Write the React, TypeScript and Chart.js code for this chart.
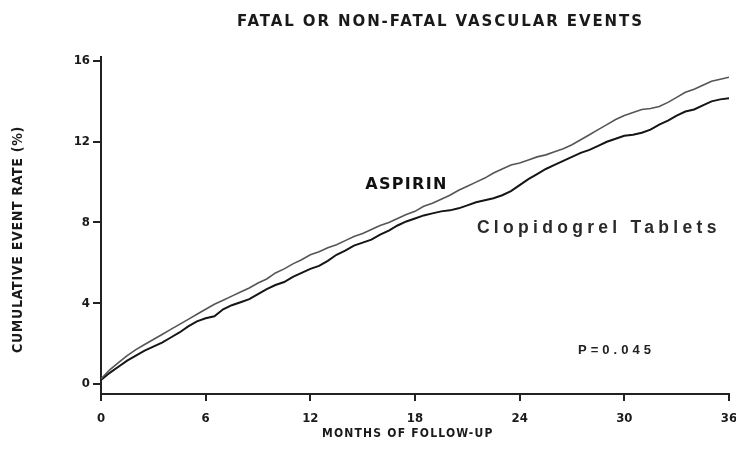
import React, { useEffect, useRef } from "react";
import { Chart, registerables } from "chart.js";

Chart.register(...registerables);

const months = [
  0, 0.5, 1, 1.5, 2, 2.5, 3, 3.5, 4, 4.5, 5, 5.5, 6, 6.5, 7, 7.5, 8, 8.5, 9, 9.5,
  10, 10.5, 11, 11.5, 12, 12.5, 13, 13.5, 14, 14.5, 15, 15.5, 16, 16.5, 17, 17.5,
  18, 18.5, 19, 19.5, 20, 20.5, 21, 21.5, 22, 22.5, 23, 23.5, 24, 24.5, 25, 25.5,
  26, 26.5, 27, 27.5, 28, 28.5, 29, 29.5, 30, 30.5, 31, 31.5, 32, 32.5, 33, 33.5,
  34, 34.5, 35, 35.5, 36,
];

const aspirin = [
  0.25, 0.7, 1.05, 1.4, 1.7, 1.95, 2.2, 2.45, 2.7, 2.95, 3.2, 3.45, 3.7, 3.95, 4.15, 4.35,
  4.55, 4.75, 5.0, 5.2, 5.5, 5.7, 5.95, 6.15, 6.4, 6.55, 6.75, 6.9, 7.1, 7.3, 7.45, 7.65,
  7.85, 8.0, 8.2, 8.4, 8.55, 8.8, 8.95, 9.15, 9.35, 9.6, 9.8, 10.0, 10.2, 10.45, 10.65,
  10.85, 10.95, 11.1, 11.25, 11.35, 11.5, 11.65, 11.85, 12.1, 12.35, 12.6, 12.85, 13.1,
  13.3, 13.45, 13.6, 13.65, 13.75, 13.95, 14.2, 14.45, 14.6, 14.8, 15.0, 15.1, 15.2,
];

const clopidogrel = [
  0.2, 0.55, 0.85, 1.15, 1.4, 1.65, 1.85, 2.05, 2.3, 2.55, 2.85, 3.1, 3.25, 3.35, 3.7, 3.9,
  4.05, 4.2, 4.45, 4.7, 4.9, 5.05, 5.3, 5.5, 5.7, 5.85, 6.1, 6.4, 6.6, 6.85, 7.0, 7.15,
  7.4, 7.6, 7.85, 8.05, 8.2, 8.35, 8.45, 8.55, 8.6, 8.7, 8.85, 9.0, 9.1, 9.2, 9.35, 9.55,
  9.85, 10.15, 10.4, 10.65, 10.85, 11.05, 11.25, 11.45, 11.6, 11.8, 12.0, 12.15, 12.3,
  12.35, 12.45, 12.6, 12.85, 13.05, 13.3, 13.5, 13.6, 13.8, 14.0, 14.1, 14.15,
];

const yTicks = [0, 4, 8, 12, 16];
const xTickStep = 6;

const titleText = "FATAL OR NON-FATAL VASCULAR EVENTS";
const yTitle = "CUMULATIVE EVENT RATE (%)";
const xTitle = "MONTHS OF FOLLOW-UP";
const aspirinLabel = "ASPIRIN";
const clopLabel = "Clopidogrel Tablets";
const pLabel = "P=0.045";

const COND = "'DejaVu Sans Condensed', 'Liberation Sans Narrow', 'Liberation Sans', sans-serif";
const DV = "'DejaVu Sans', 'Liberation Sans', sans-serif";
const WIDE = "'Liberation Sans', Arial, 'DejaVu Sans', sans-serif";

const textPlugin = {
  id: "texts",
  afterDraw(chart: any) {
    const { ctx, scales } = chart;
    const xs = scales.x;
    const ys = scales.y;
    ctx.save();
    ctx.fillStyle = "#1a1a1a";
    ctx.textBaseline = "middle";
    ctx.textAlign = "left";
    // title
    ctx.font = `bold 15px ${DV}`;
    ctx.letterSpacing = "1.9px";
    ctx.fillText(titleText, 237, 22);
    // x title
    ctx.font = `bold 12px ${COND}`;
    ctx.letterSpacing = "1.2px";
    ctx.fillText(xTitle, 322, 434);
    // y title
    ctx.save();
    ctx.translate(18, 353);
    ctx.rotate(-Math.PI / 2);
    ctx.font = `bold 14px ${COND}`;
    ctx.letterSpacing = "0.7px";
    ctx.fillText(yTitle, 0, 0);
    ctx.restore();
    // annotations
    ctx.font = `bold 16px ${DV}`;
    ctx.letterSpacing = "1.3px";
    ctx.fillStyle = "#111";
    ctx.fillText(aspirinLabel, xs.getPixelForValue(15.15), ys.getPixelForValue(9.85));
    ctx.font = `bold 17.5px ${WIDE}`;
    ctx.letterSpacing = "4.3px";
    ctx.fillStyle = "#2a2a2a";
    ctx.fillText(clopLabel, xs.getPixelForValue(21.55), ys.getPixelForValue(7.7));
    ctx.font = `bold 13px ${WIDE}`;
    ctx.letterSpacing = "4px";
    ctx.fillStyle = "#222";
    ctx.fillText(pLabel, xs.getPixelForValue(27.35), ys.getPixelForValue(1.68));
    ctx.restore();
  },
};

export default function App() {
  const ref = useRef<HTMLCanvasElement>(null);
  useEffect(() => {
    if (!ref.current) return;
    const chart = new Chart(ref.current, {
      type: "line",
      data: {
        datasets: [
          {
            label: "Aspirin",
            data: months.map((m, i) => ({ x: m, y: aspirin[i] })),
            borderColor: "#555",
            borderWidth: 1.6,
            pointRadius: 0,
            tension: 0,
          },
          {
            label: "Clopidogrel Tablets",
            data: months.map((m, i) => ({ x: m, y: clopidogrel[i] })),
            borderColor: "#151515",
            borderWidth: 2,
            pointRadius: 0,
            tension: 0,
          },
        ],
      },
      options: {
        animation: false,
        responsive: false,
        maintainAspectRatio: false,
        layout: { padding: { top: 57, right: 7, left: 0, bottom: 0 } },
        plugins: {
          legend: { display: false },
          tooltip: { enabled: false },
          title: { display: false },
        },
        scales: {
          x: {
            type: "linear",
            min: 0,
            max: 36,
            ticks: {
              stepSize: xTickStep,
              color: "#1a1a1a",
              font: { family: COND, size: 13, weight: "bold" },
              padding: 10,
            },
            grid: {
              display: true,
              drawOnChartArea: false,
              drawTicks: true,
              tickLength: 7,
              color: "#222",
              lineWidth: 2,
            },
            border: { display: true, color: "#222", width: 2 },
            afterFit(scale: any) {
              scale.height = 72;
              scale.paddingRight = 0;
              scale.paddingLeft = 0;
            },
          },
          y: {
            type: "linear",
            min: -0.5,
            max: 16.2,
            afterBuildTicks(scale: any) {
              scale.ticks = yTicks.map((v) => ({ value: v }));
            },
            ticks: {
              color: "#1a1a1a",
              font: { family: COND, size: 13, weight: "bold" },
              padding: 3,
            },
            grid: {
              display: true,
              drawOnChartArea: false,
              drawTicks: true,
              tickLength: 8,
              color: "#222",
              lineWidth: 2,
            },
            border: { display: true, color: "#222", width: 2 },
            afterFit(scale: any) {
              scale.width = 101;
              scale.paddingTop = 0;
              scale.paddingBottom = 0;
            },
          },
        },
      },
      plugins: [textPlugin],
    } as any);
    return () => chart.destroy();
  }, []);
  return (
    <div style={{ position: "absolute", left: 0, top: 0, width: 736, height: 466, background: "#fff" }}>
      <canvas ref={ref} width={736} height={466} style={{ width: 736, height: 466, display: "block" }} />
    </div>
  );
}
